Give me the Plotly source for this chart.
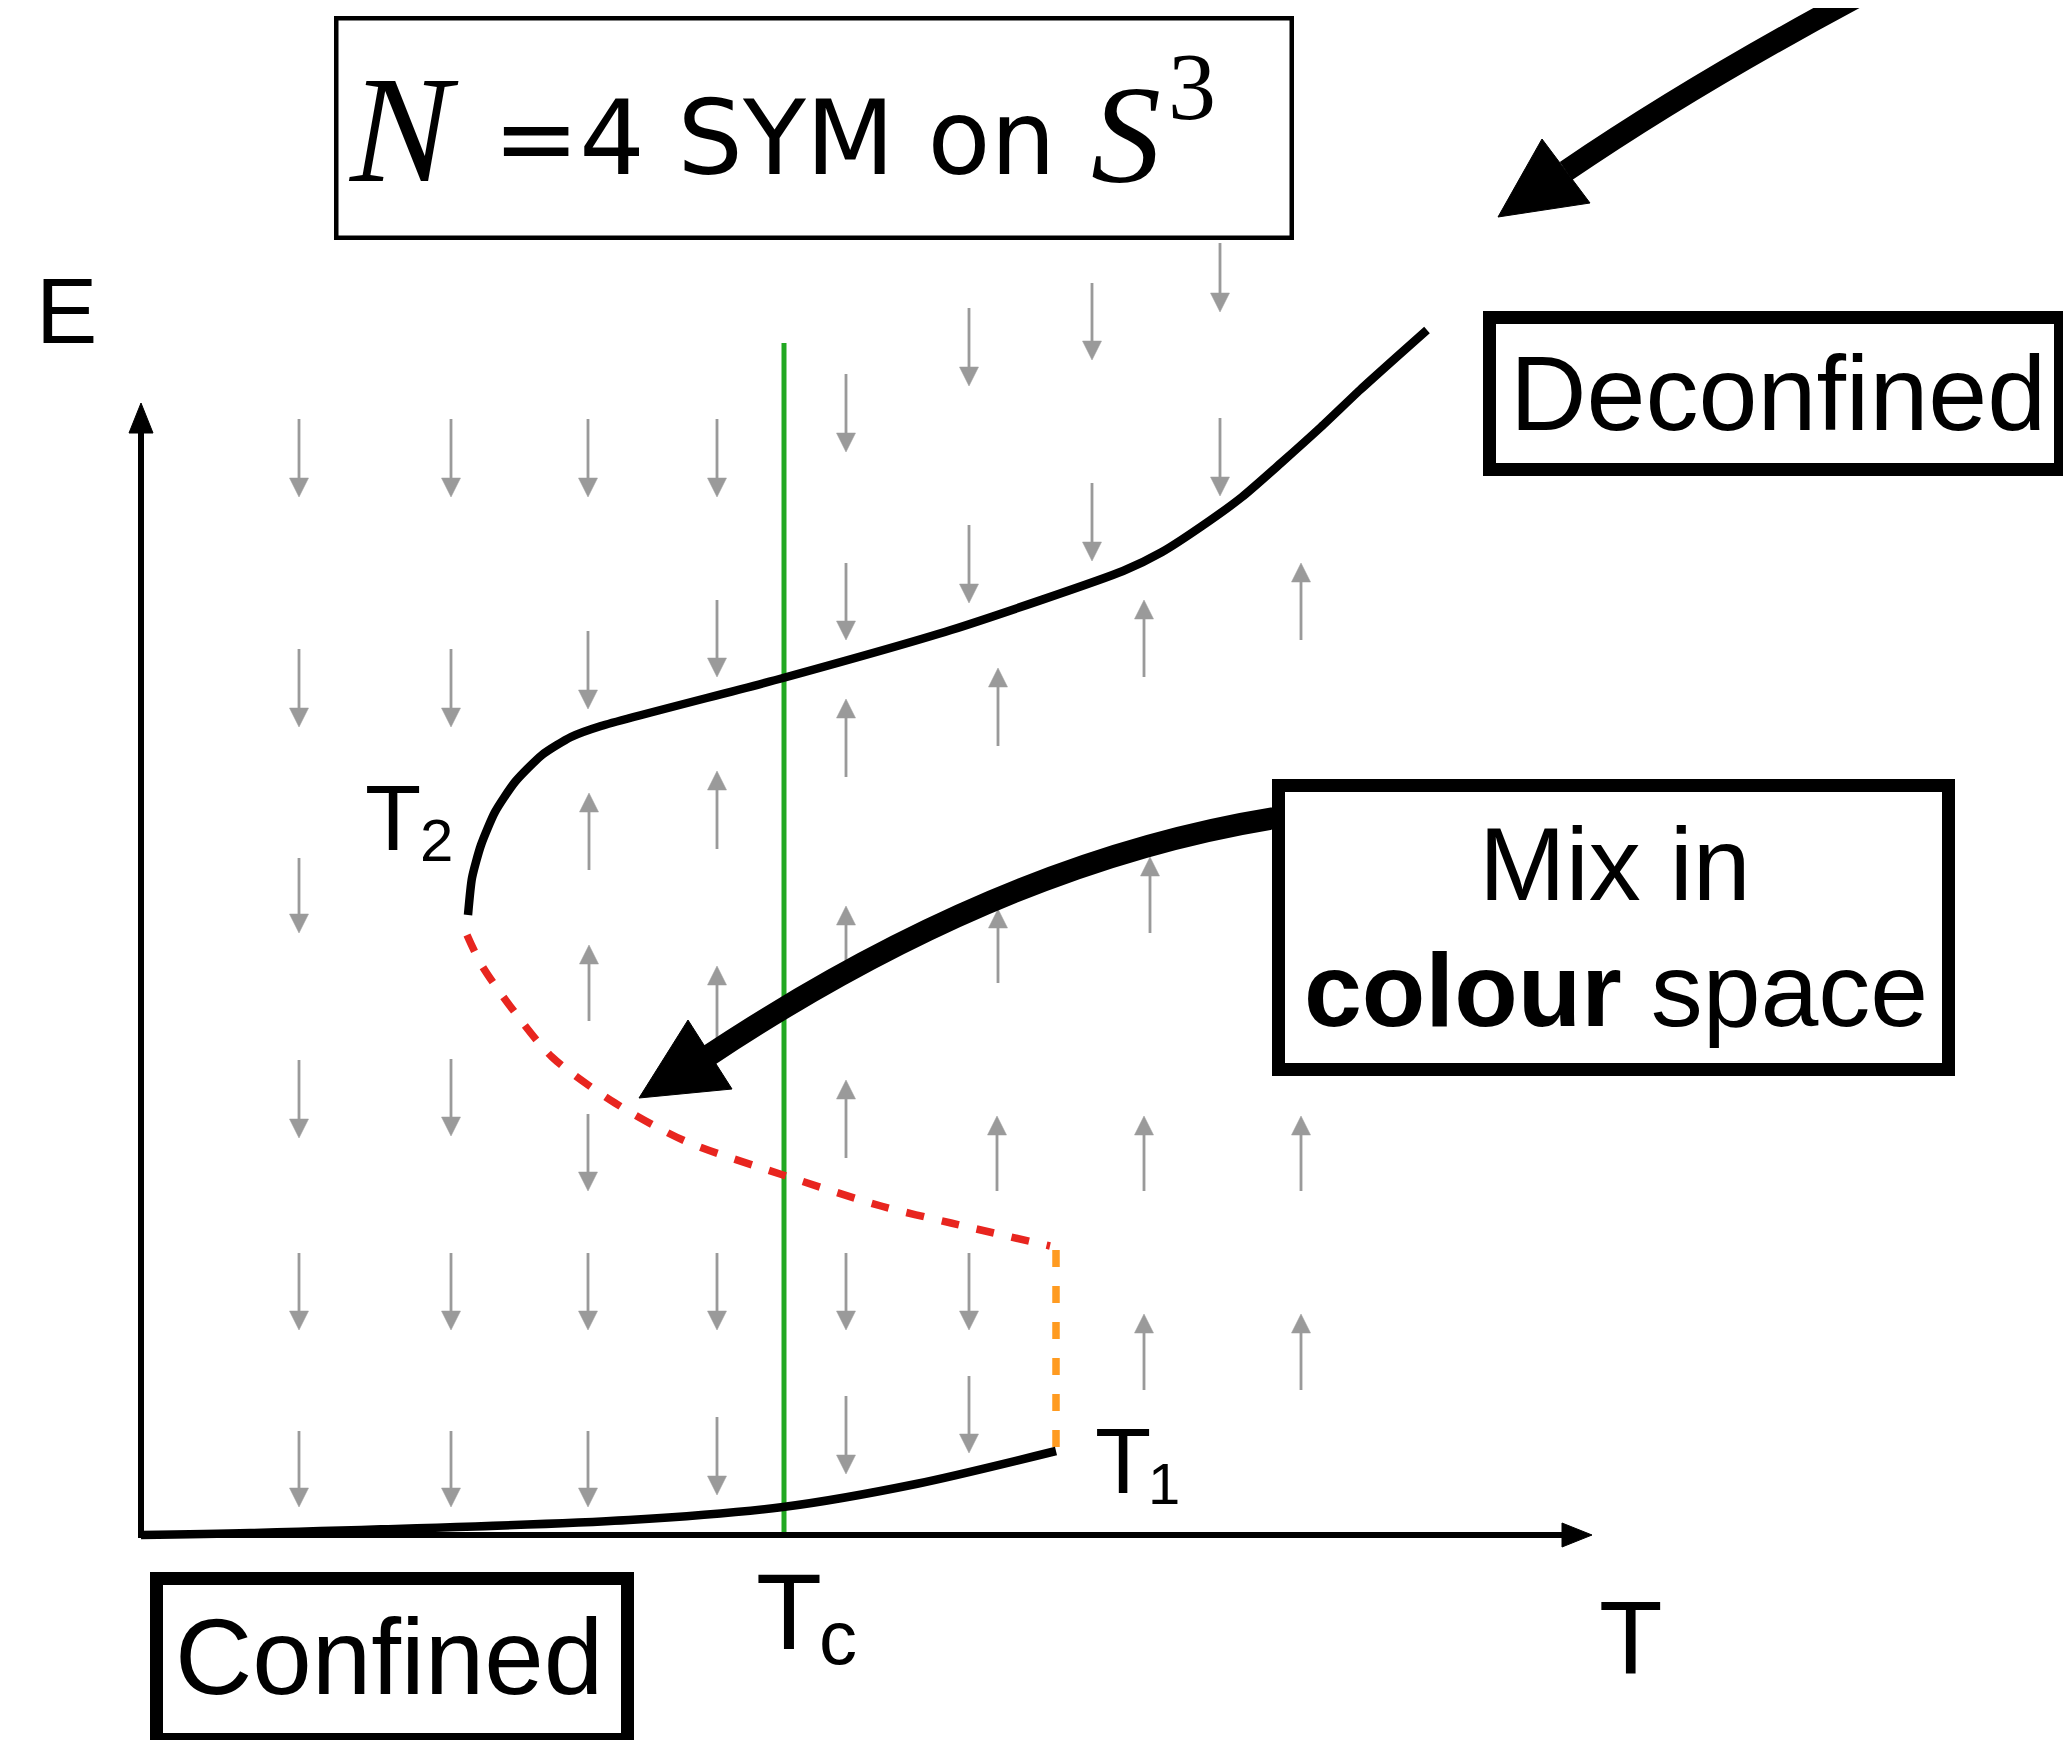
import plotly.graph_objects as go

W, H = 2071, 1740
OFF = 8  # page body margin of the generated html

# ---- curve data (diagram coordinates, pixels of the 2071x1740 canvas) ----
upper_x = [468, 472, 481, 495, 515, 542, 571, 601, 783, 951, 1123, 1162, 1202, 1242, 1281, 1321, 1360, 1400, 1427]
upper_y = [915, 878, 845, 812, 782, 755, 737, 726, 678, 630, 571, 552, 526, 497, 463, 427, 390, 354, 330]

unstable_x = [467, 481, 510, 552, 615, 685, 783, 881, 951, 1050]
unstable_y = [935, 964, 1006, 1057, 1103, 1141, 1175, 1206, 1223, 1246]

jump_x = [1056, 1056]
jump_y = [1250, 1452]

lower_x = [141, 250, 629, 783, 916, 1056]
lower_y = [1535, 1533, 1520, 1507, 1484, 1451]

tc_x = [784, 784]
tc_y = [343, 1535]

# gray flow arrows: (x, tail_y, tip_y)
flow_down = [
    (299, 419, 497), (451, 419, 497), (588, 419, 497), (717, 419, 497),
    (846, 374, 452), (969, 308, 386), (1092, 283, 360), (1220, 243, 312),
    (846, 563, 640), (969, 525, 603), (1092, 483, 561), (1220, 418, 496), (717, 600, 677),
    (299, 649, 727), (451, 649, 727), (588, 631, 709),
    (299, 858, 933),
    (299, 1060, 1138), (451, 1059, 1136), (588, 1114, 1191),
    (299, 1253, 1330), (451, 1253, 1330), (588, 1253, 1330), (717, 1253, 1330),
    (846, 1253, 1330), (969, 1253, 1330),
    (299, 1431, 1507), (451, 1431, 1507), (588, 1431, 1507), (717, 1417, 1495),
    (846, 1396, 1474), (969, 1376, 1453),
]
flow_up = [
    (589, 870, 793), (717, 849, 771), (846, 777, 699), (998, 746, 668),
    (1144, 677, 600), (1301, 640, 563),
    (1150, 933, 857), (846, 984, 906), (998, 983, 909),
    (589, 1021, 945), (717, 1042, 966),
    (846, 1158, 1080), (997, 1191, 1116), (1144, 1191, 1116), (1301, 1191, 1116),
    (1144, 1390, 1314), (1301, 1390, 1314),
]

# axes
axis_origin = (141, 1535)
axis_y_tip = 403
axis_x_tip = 1592

# big black arrows: shaft (start, control, end) and head triangle (tip, corner, corner)
mix_shaft = [(1275, 818), (1000, 862), (708, 1056)]
mix_head = [(639, 1098), (688, 1020), (732, 1089)]
top_shaft = [(1887, -19), (1704, 77), (1566, 171)]
top_head = [(1498, 217), (1542, 139), (1590, 203)]

# label boxes (outer edges x0, x1, y0, y1)
title_box = (334, 1294, 16, 240)
deconf_box = (1483, 2067, 311, 476)
mix_box = (1272, 1955, 779, 1076)
conf_box = (150, 634, 1572, 1746)

GRAY = "#9a9a9a"
fig = go.Figure()

# gray flow arrows: shafts + heads
hl, hw = 19, 9.5
sx, sy, px, py = [], [], [], []
for x, tail, tip in flow_down:
    sx += [x, x, None]
    sy += [tail, tip - hl + 2, None]
    px += [x, x - hw, x + hw, x, None]
    py += [tip, tip - hl, tip - hl, tip, None]
for x, tail, tip in flow_up:
    sx += [x, x, None]
    sy += [tail, tip + hl - 2, None]
    px += [x, x - hw, x + hw, x, None]
    py += [tip, tip + hl, tip + hl, tip, None]
fig.add_trace(go.Scatter(x=sx, y=sy, mode="lines", line=dict(color=GRAY, width=2.8),
                         hoverinfo="skip"))
fig.add_trace(go.Scatter(x=px, y=py, mode="lines", fill="toself", fillcolor=GRAY,
                         line=dict(color=GRAY, width=0.5), hoverinfo="skip"))

# Tc line
fig.add_trace(go.Scatter(x=tc_x, y=tc_y, mode="lines", line=dict(color="#22a822", width=5),
                         hoverinfo="skip"))

# curves
fig.add_trace(go.Scatter(x=upper_x, y=upper_y, mode="lines",
                         line=dict(color="black", width=8.5, shape="spline", smoothing=0.6),
                         hoverinfo="skip"))
fig.add_trace(go.Scatter(x=unstable_x, y=unstable_y, mode="lines",
                         line=dict(color="#e8251f", width=7.5, dash="18px,18px", shape="spline", smoothing=0.8),
                         hoverinfo="skip"))
fig.add_trace(go.Scatter(x=jump_x, y=jump_y, mode="lines",
                         line=dict(color="#ff9b21", width=7.5, dash="17px,19px"),
                         hoverinfo="skip"))
fig.add_trace(go.Scatter(x=lower_x, y=lower_y, mode="lines",
                         line=dict(color="black", width=8.5, shape="spline", smoothing=0.8),
                         hoverinfo="skip"))

# axes with arrowheads
ox, oy = axis_origin
fig.add_trace(go.Scatter(x=[ox, ox, None, ox - 3, axis_x_tip - 24], y=[oy + 3, axis_y_tip + 24, None, oy, oy],
                         mode="lines", line=dict(color="black", width=6), hoverinfo="skip"))
fig.add_trace(go.Scatter(
    x=[ox, ox - 12, ox + 12, ox, None, axis_x_tip, axis_x_tip - 30, axis_x_tip - 30, axis_x_tip],
    y=[axis_y_tip, axis_y_tip + 30, axis_y_tip + 30, axis_y_tip, None, oy, oy - 12, oy + 12, oy],
    mode="lines", fill="toself", fillcolor="black", line=dict(color="black", width=1), hoverinfo="skip"))

shapes = []

def qpath(p):
    (a, b), (c, d), (e, f) = p
    return f"M {a},{b} Q {c},{d} {e},{f}"

def tri(p):
    (a, b), (c, d), (e, f) = p
    return f"M {a},{b} L {c},{d} L {e},{f} Z"

for shaft, head in [(mix_shaft, mix_head), (top_shaft, top_head)]:
    shapes.append(dict(type="path", path=qpath(shaft), xref="x", yref="y",
                       line=dict(color="black", width=22)))
    shapes.append(dict(type="path", path=tri(head), xref="x", yref="y",
                       fillcolor="black", line=dict(color="black", width=1)))

def box(b, lw):
    x0, x1, y0, y1 = b
    h = lw / 2
    return dict(type="rect", xref="x", yref="y", x0=x0 + h, x1=x1 - h, y0=y0 + h, y1=y1 - h,
                line=dict(color="black", width=lw), fillcolor="white", layer="above")

shapes.append(box(title_box, 4.5))
shapes.append(box(deconf_box, 13))
shapes.append(box(mix_box, 13))
shapes.append(box(conf_box, 13))

SANS = "Liberation Sans"
SERIF = "Liberation Serif"
ann = []

def txt(x, y, t, size, family=SANS, xanchor="center"):
    ann.append(dict(x=x, y=y, xref="x", yref="y", text=t, showarrow=False,
                    font=dict(family=family, size=size, color="black"),
                    xanchor=xanchor, yanchor="middle"))

# title
txt(403, 130, "<i>N</i>", 152, SERIF)
txt(774, 138, "=4 SYM on", 103, "DejaVu Sans")
txt(1126, 134, "<i>S</i>", 140, SERIF)
txt(1192, 86, "3", 96, SERIF)

txt(1778, 393, "Deconfined", 106)
txt(1615, 864, "Mix in", 104)
txt(1616, 990, "<b>colour</b> space", 104)
txt(389, 1657, "Confined", 107)

txt(66, 311, "E", 92)
txt(1631, 1638, "T", 104)
txt(789, 1611, "T", 108)
txt(838, 1637, "c", 76)
txt(393, 818, "T", 92)
txt(436, 840, "2", 60)
txt(1123, 1461, "T", 92)
txt(1164, 1483, "1", 58)

fig.update_layout(
    width=W, height=H, margin=dict(l=0, r=0, t=0, b=0),
    paper_bgcolor="white", plot_bgcolor="white", showlegend=False,
    xaxis=dict(range=[OFF, W + OFF], visible=False, fixedrange=True),
    yaxis=dict(range=[H + OFF, OFF], visible=False, fixedrange=True),
    shapes=shapes, annotations=ann,
)

fig.write_html("out.html")
